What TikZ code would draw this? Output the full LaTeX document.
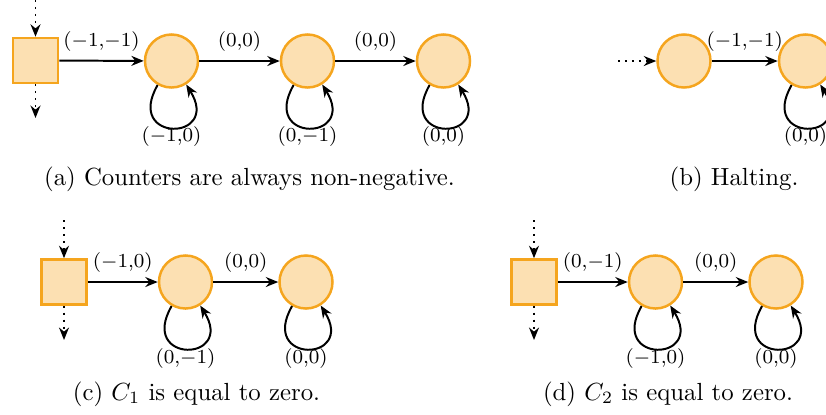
\documentclass[tikz,border=0pt]{standalone}
\usetikzlibrary{arrows.meta}
\definecolor{stroke}{RGB}{245,165,30}
\definecolor{fillc}{RGB}{252,224,178}
\begin{document}
\begin{tikzpicture}[x=0.4035pt,y=-0.4035pt,
  st/.style={circle,draw=stroke,fill=fillc,line width=1pt,minimum size=21.4pt,inner sep=0pt},
  bx/.style={rectangle,draw=stroke,fill=fillc,line width=1pt,minimum size=18.2pt,inner sep=0pt},
  tr/.style={-{Stealth[length=5pt,width=4pt]},line width=0.8pt},
  dt/.style={tr,dotted},
  lp/.style={tr,out=-120,in=-58,looseness=6},
  lab/.style={font=\footnotesize},
  captext/.style={anchor=base}]
\useasboundingbox (0,0) rectangle (826,414);
\clip (0,0) rectangle (826,414);
% (a)
\node[bx] (a0) at (35.5,60.5) {};
\node[st] (a1) at (171.5,61) {};
\node[st] (a2) at (307.5,61) {};
\node[st] (a3) at (443.5,61) {};
\coordinate (at) at (35.5,0);
\coordinate (ab) at (35.5,118);
\draw[dt] (at) -- (a0);
\draw[dt] (a0) -- (ab);
\draw[tr] (a0) -- node[lab,above]{$(-1{,}{-}1)$} (a1);
\draw[tr] (a1) -- node[lab,above]{$(0{,}0)$} (a2);
\draw[tr] (a2) -- node[lab,above]{$(0{,}0)$} (a3);
\draw[lp] (a1) to (a1);
\draw[lp] (a2) to (a2);
\draw[lp] (a3) to (a3);
\node[lab] (la1) at (171.5,137) {$(-1{,}0)$};
\node[lab] (la2) at (307.5,137) {$(0{,}{-}1)$};
\node[lab] (la3) at (443.5,137) {$(0{,}0)$};
\node[captext] (capa) at (249.5,185) {(a) Counters are always non-negative.};
% (b)
\coordinate (bd) at (618,61);
\node[st] (b1) at (684,61) {};
\node[st] (b2) at (805.5,61) {};
\draw[dt] (bd) -- (b1);
\draw[tr] (b1) -- node[lab,above]{$(-1{,}{-}1)$} (b2);
\draw[lp] (b2) to (b2);
\node[lab] (lb2) at (805.5,137) {$(0{,}0)$};
\node[captext] (capb) at (734,185) {(b) Halting.};
% (c)
\node[bx] (c0) at (64,282) {};
\node[st] (c1) at (185.5,282) {};
\node[st] (c2) at (306,282) {};
\coordinate (ct) at (64,220);
\coordinate (cb) at (64,340);
\draw[dt] (ct) -- (c0);
\draw[dt] (c0) -- (cb);
\draw[tr] (c0) -- node[lab,above]{$(-1{,}0)$} (c1);
\draw[tr] (c1) -- node[lab,above]{$(0{,}0)$} (c2);
\draw[lp] (c1) to (c1);
\draw[lp] (c2) to (c2);
\node[lab] (lc1) at (185.5,359) {$(0{,}{-}1)$};
\node[lab] (lc2) at (306,359) {$(0{,}0)$};
\node[captext] (capc) at (196.5,400) {(c) $C_1$ is equal to zero.};
% (d)
\node[bx] (d0) at (534,282) {};
\node[st] (d1) at (655.5,282) {};
\node[st] (d2) at (776,282) {};
\coordinate (dtp) at (534,220);
\coordinate (dbt) at (534,340);
\draw[dt] (dtp) -- (d0);
\draw[dt] (d0) -- (dbt);
\draw[tr] (d0) -- node[lab,above]{$(0{,}{-}1)$} (d1);
\draw[tr] (d1) -- node[lab,above]{$(0{,}0)$} (d2);
\draw[lp] (d1) to (d1);
\draw[lp] (d2) to (d2);
\node[lab] (ld1) at (655.5,359) {$(-1{,}0)$};
\node[lab] (ld2) at (776,359) {$(0{,}0)$};
\node[captext] (capd) at (668,400) {(d) $C_2$ is equal to zero.};
\end{tikzpicture}
\end{document}
